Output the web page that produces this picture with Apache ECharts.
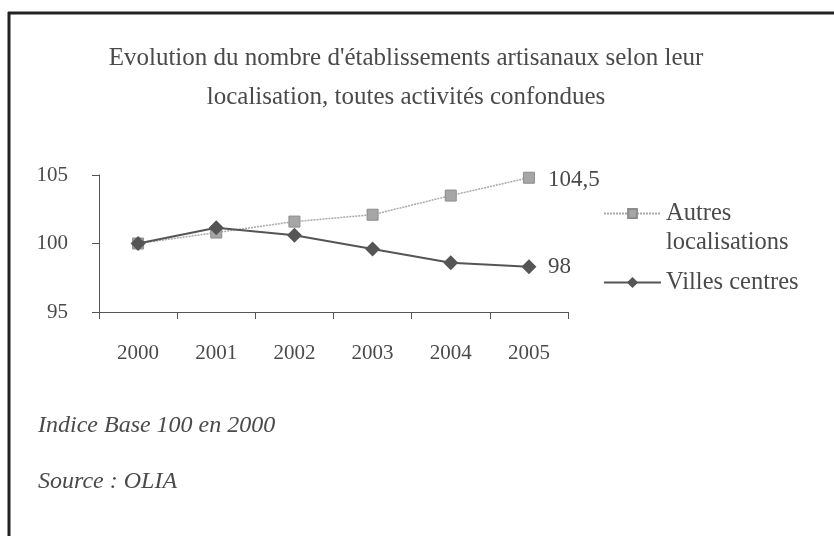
<!DOCTYPE html>
<html><head><meta charset="utf-8">
<script src="https://cdn.jsdelivr.net/npm/echarts@6/dist/echarts.min.js"></script>
<style>html,body{margin:0;padding:0;background:#fff}#c{width:834px;height:536px}</style>
</head><body><div id="c"></div>
<script>
const years = ['2000','2001','2002','2003','2004','2005'];
const autres = [100, 100.8, 101.6, 102.1, 103.5, 104.8];
const villes = [100, 101.15, 100.6, 99.6, 98.6, 98.3];
const seriesNames = ['Autres localisations', 'Villes centres'];
const endLabels = ['104,5', '98'];
const yTicks = [95, 100, 105];
const titleLines = ["Evolution du nombre d'établissements artisanaux selon leur", "localisation, toutes activités confondues"];
const notes = ['Indice Base 100 en 2000', 'Source : OLIA'];

const serif = 'Liberation Serif';
const txt = '#4a4a4a';
const chart = echarts.init(document.getElementById('c'), null, {renderer: 'canvas'});
chart.setOption({
  backgroundColor: '#fff',
  animation: false,
  title: {
    text: titleLines.join('\n'), left: 406, top: 39, textAlign: 'center', padding: 0,
    textStyle: {fontFamily: serif, fontSize: 25, fontWeight: 'normal', color: txt, lineHeight: 39}
  },
  grid: {left: 99, right: 266, top: 175, bottom: 224, containLabel: false},
  xAxis: {
    type: 'category', data: years, boundaryGap: true,
    axisLine: {lineStyle: {color: '#555', width: 1}},
    axisTick: {show: true, length: 7, lineStyle: {color: '#555'}},
    axisLabel: {fontFamily: serif, fontSize: 21, color: txt, margin: 31}
  },
  yAxis: {
    type: 'value', min: yTicks[0], max: yTicks[yTicks.length - 1], interval: 5,
    splitLine: {show: false},
    axisLine: {show: true, lineStyle: {color: '#555', width: 1}},
    axisTick: {show: true, length: 7, lineStyle: {color: '#555'}},
    axisLabel: {fontFamily: serif, fontSize: 21, color: txt, margin: 31}
  },
  legend: [
    {
      data: [{name: seriesNames[0]}], left: 603, top: 170, orient: 'vertical', padding: 0,
      itemWidth: 57, itemHeight: 11,
      formatter: n => '\n' + n.replace(' ', '\n'),
      textStyle: {fontFamily: serif, fontSize: 24.5, color: txt, lineHeight: 29}
    },
    {
      data: [{name: seriesNames[1]}], left: 603, top: 268, orient: 'vertical', padding: 0,
      itemWidth: 57, itemHeight: 14,
      textStyle: {fontFamily: serif, fontSize: 24.5, color: txt, lineHeight: 29}
    }
  ],
  series: [
    {
      name: seriesNames[0], type: 'line', data: autres,
      symbol: 'rect', symbolSize: 11,
      lineStyle: {color: '#a8a8a8', width: 1.5, type: [2, 1]},
      itemStyle: {color: '#a6a6a6', borderColor: '#8c8c8c', borderWidth: 1},
      endLabel: {show: true, formatter: () => endLabels[0], fontFamily: serif, fontSize: 23, color: txt, distance: 19, offset: [0, 2]},
      z: 2
    },
    {
      name: seriesNames[1], type: 'line', data: villes,
      symbol: 'diamond', symbolSize: 15,
      lineStyle: {color: '#555', width: 2},
      itemStyle: {color: '#555'},
      endLabel: {show: true, formatter: () => endLabels[1], fontFamily: serif, fontSize: 23, color: txt, distance: 19},
      z: 3
    }
  ],
  graphic: [
    {type: 'line', shape: {x1: 8, y1: 13, x2: 834, y2: 13}, style: {stroke: '#222', lineWidth: 3}, silent: true},
    {type: 'line', shape: {x1: 9, y1: 12, x2: 9, y2: 536}, style: {stroke: '#222', lineWidth: 3}, silent: true},
    {type: 'text', left: 38, top: 414, style: {text: notes[0], fontFamily: serif, fontStyle: 'italic', fontSize: 24, fill: txt}},
    {type: 'text', left: 38, top: 470, style: {text: notes[1], fontFamily: serif, fontStyle: 'italic', fontSize: 24, fill: txt}}
  ]
});
</script></body></html>
